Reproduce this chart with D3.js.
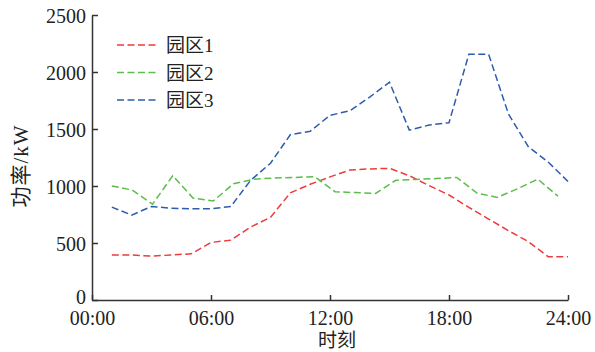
<!DOCTYPE html>
<html>
<head>
<meta charset="utf-8">
<script src="https://cdn.jsdelivr.net/npm/d3@7"></script>
<style>
  html, body { margin: 0; padding: 0; background: #fff; }
  svg text { font-family: "Liberation Serif", "Noto Sans CJK SC", serif; fill: #222; }
</style>
</head>
<body>
<svg id="chart" width="595" height="352"></svg>
<script>
// ---- data ----
const seriesNames = ["园区1", "园区2", "园区3"];
const hours = [1,2,3,4,5,6,7,8,9,10,11,12,13,14,15,16,17,18,19,20,21,22,23,24];
const park1 = [395,395,385,395,405,505,525,640,725,940,1015,1080,1140,1150,1155,1090,1003,921,813,710,608,512,380,380];
const hours2 = [1,2.02,3.05,4.07,5.09,6.11,7.14,8.16,9.18,10.2,11.23,12.25,13.27,14.3,15.32,16.34,17.36,18.39,19.41,20.43,21.45,22.48,23.5];
const park2 = [1000,965,840,1090,895,868,1020,1060,1070,1075,1082,950,942,935,1050,1058,1065,1075,938,900,975,1060,910];
const park3 = [815,745,820,805,800,800,820,1050,1200,1450,1480,1620,1660,1780,1910,1490,1535,1555,2155,2155,1630,1345,1210,1040];
const xTickValues = [0, 6, 12, 18, 24];
const xTickLabels = ["00:00", "06:00", "12:00", "18:00", "24:00"];
const yTickValues = [0, 500, 1000, 1500, 2000, 2500];
const colors = ["#ee3b3b", "#5cbc4c", "#2d5cad"];

// ---- layout ----
const svg = d3.select("#chart");
const x = d3.scaleLinear().domain([0, 24]).range([92, 568]);
const y = d3.scaleLinear().domain([0, 2500]).range([300, 15]);

// axes
const xAxis = d3.axisBottom(x).tickValues(xTickValues)
  .tickFormat((d, i) => xTickLabels[i]).tickSizeInner(-5).tickSizeOuter(0).tickPadding(10);
const yAxis = d3.axisLeft(y).tickValues(yTickValues).tickFormat(d3.format("d"))
  .tickSizeInner(-6).tickSizeOuter(0).tickPadding(6);

const gx = svg.append("g").attr("transform", "translate(0,300)").call(xAxis);
const gy = svg.append("g").attr("transform", "translate(92,0)").call(yAxis);
[gx, gy].forEach(g => {
  g.selectAll("path.domain").attr("stroke", "#333").attr("stroke-width", 1.5);
  g.selectAll(".tick line").attr("stroke", "#333").attr("stroke-width", 1.5);
  g.selectAll(".tick text").attr("font-size", 20)
    .attr("font-family", "'Liberation Serif', serif").attr("fill", "#222");
});
gy.selectAll(".tick text").attr("dy", d => d === 0 ? "0.15em" : "0.35em");
gx.selectAll(".tick text").attr("dy", "0.75em");

// axis titles
svg.append("text").attr("x", 337).attr("y", 347).attr("text-anchor", "middle")
  .attr("font-size", 19).attr("font-family", "'Noto Sans CJK SC', sans-serif").text("时刻");
svg.append("text").attr("transform", "translate(28,166) rotate(-90)").attr("text-anchor", "middle")
  .attr("font-size", 21).attr("letter-spacing", 1)
  .attr("font-family", "'Liberation Serif', 'Noto Sans CJK SC', serif").text("功率/kW");

// lines
const line = d3.line().x(d => x(d[0])).y(d => y(d[1]));
const data = [
  hours.map((h, i) => [h, park1[i]]),
  hours2.map((h, i) => [h, park2[i]]),
  hours.map((h, i) => [h, park3[i]])
];
data.forEach((d, i) => {
  svg.append("path").datum(d).attr("d", line)
    .attr("fill", "none").attr("stroke", colors[i]).attr("stroke-width", 1.5)
    .attr("stroke-dasharray", "7,3.5");
});

// legend
const legendY = [45, 72.5, 100];
seriesNames.forEach((name, i) => {
  svg.append("line").attr("x1", 117).attr("x2", 156).attr("y1", legendY[i]).attr("y2", legendY[i])
    .attr("stroke", colors[i]).attr("stroke-width", 1.5).attr("stroke-dasharray", "7,3.5");
  svg.append("text").attr("x", 166).attr("y", legendY[i] + 7)
    .attr("font-size", 19).attr("font-family", "'Liberation Serif', 'Noto Sans CJK SC', serif").text(name);
});
</script>
</body>
</html>
